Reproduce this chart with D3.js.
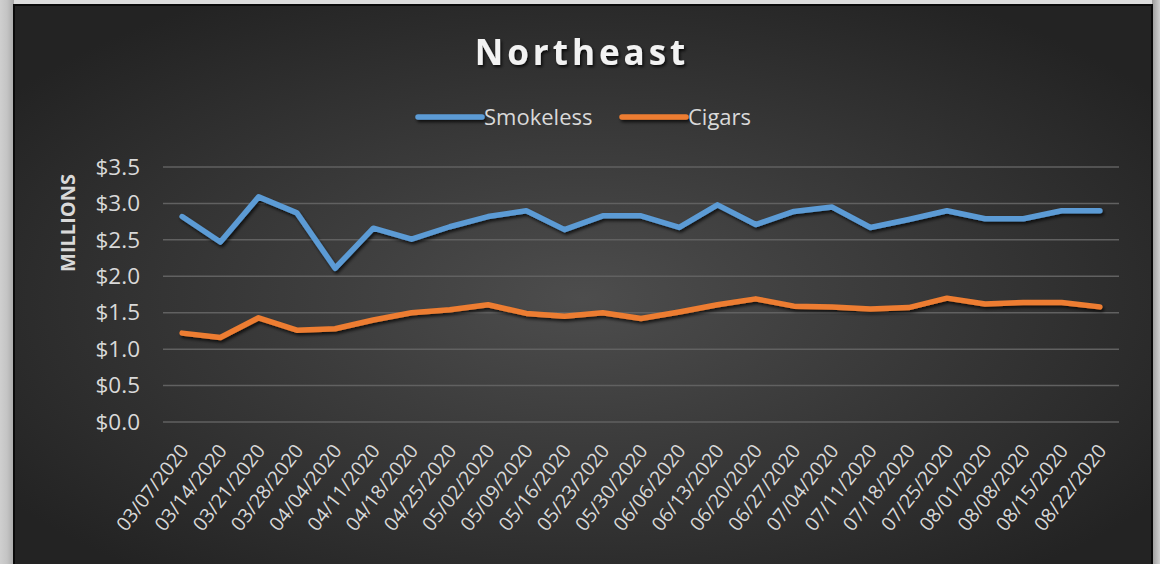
<!DOCTYPE html>
<html>
<head>
<meta charset="utf-8">
<script src="https://cdn.jsdelivr.net/npm/d3@7"></script>
<style>
  html, body { margin: 0; padding: 0; background: #d6d6d6; }
  svg { display: block; }
</style>
</head>
<body>
<div id="chart"></div>
<script>
// Weekly sales, Northeast region (millions of dollars)
const weeks = ["03/07/2020","03/14/2020","03/21/2020","03/28/2020","04/04/2020","04/11/2020",
  "04/18/2020","04/25/2020","05/02/2020","05/09/2020","05/16/2020","05/23/2020","05/30/2020",
  "06/06/2020","06/13/2020","06/20/2020","06/27/2020","07/04/2020","07/11/2020","07/18/2020",
  "07/25/2020","08/01/2020","08/08/2020","08/15/2020","08/22/2020"];
const smokeless = [2.82,2.47,3.09,2.87,2.11,2.66,2.51,2.68,2.82,2.90,2.64,2.83,2.83,
  2.67,2.98,2.71,2.89,2.95,2.67,2.78,2.90,2.79,2.79,2.90,2.90];
const cigars = [1.22,1.16,1.43,1.26,1.28,1.40,1.50,1.54,1.61,1.49,1.45,1.50,1.42,
  1.51,1.61,1.69,1.59,1.58,1.55,1.57,1.70,1.62,1.64,1.64,1.58];
const yTicks = [0,0.5,1.0,1.5,2.0,2.5,3.0,3.5];
const seriesNames = ["Smokeless","Cigars"];
const seriesColors = ["#5b9bd5","#ed7d31"];

const W = 1160, H = 564;
const svg = d3.select("#chart").append("svg").attr("width", W).attr("height", H);
const defs = svg.append("defs");

// page backdrop with a soft shade on both sides of the card
const side = defs.append("linearGradient").attr("id","side").attr("x1","0").attr("x2","1");
side.append("stop").attr("offset","0").attr("stop-color","#cfcfcf");
side.append("stop").attr("offset","0.5").attr("stop-color","#c4c4c4");
side.append("stop").attr("offset","1").attr("stop-color","#a8a8a8");
svg.append("rect").attr("width",W).attr("height",H).attr("fill","#dcdcdc");
svg.append("rect").attr("x",0).attr("y",0).attr("width",14).attr("height",H).attr("fill","url(#side)");
const side2 = defs.append("linearGradient").attr("id","side2").attr("x1","0").attr("x2","1");
side2.append("stop").attr("offset","0").attr("stop-color","#9a9a9a");
side2.append("stop").attr("offset","1").attr("stop-color","#d0d0d0");
svg.append("rect").attr("x",1152).attr("y",0).attr("width",8).attr("height",H).attr("fill","url(#side2)");

// chart card: dark radial gradient
const bg = defs.append("radialGradient").attr("id","bg")
  .attr("cx","0.5").attr("cy","0.52").attr("r","0.62");
bg.append("stop").attr("offset","0").attr("stop-color","#4d4d4d");
bg.append("stop").attr("offset","1").attr("stop-color","#232323");
svg.append("rect").attr("x",14).attr("y",5).attr("width",1138).attr("height",H)
  .attr("fill","url(#bg)").attr("stroke","#0a0a0a").attr("stroke-width",2);

// shadows (user-space regions so flat shapes keep their shadow)
const sh = defs.append("filter").attr("id","lineShadow").attr("filterUnits","userSpaceOnUse")
  .attr("x",0).attr("y",0).attr("width",W).attr("height",H);
sh.append("feDropShadow").attr("dx",1.5).attr("dy",2.5).attr("stdDeviation",1.6)
  .attr("flood-color","#000").attr("flood-opacity",0.7);
const tsh = defs.append("filter").attr("id","textShadow").attr("filterUnits","userSpaceOnUse")
  .attr("x",0).attr("y",0).attr("width",W).attr("height",H);
tsh.append("feDropShadow").attr("dx",1.5).attr("dy",2).attr("stdDeviation",1.5)
  .attr("flood-color","#000").attr("flood-opacity",0.8);

const x = d3.scalePoint().domain(weeks).range([163,1119]).padding(0.5);
const y = d3.scaleLinear().domain([0,3.5]).range([422,167]);

const font = "'Open Sans', sans-serif";
const textColor = "#d9d9d9";

// gridlines
svg.append("g").selectAll("line").data(yTicks).join("line")
  .attr("x1",163).attr("x2",1119)
  .attr("y1",d => y(d)).attr("y2",d => y(d))
  .attr("stroke","#616161").attr("stroke-width",1.5);

// y axis labels
const yAxis = svg.append("g").attr("transform","translate(140,0)")
  .call(d3.axisLeft(y).tickValues(yTicks).tickSize(0).tickPadding(0)
    .tickFormat(d => "$" + d3.format(".1f")(d)));
yAxis.select(".domain").remove();
yAxis.selectAll("text").attr("font-family",font).attr("font-size",22.5)
  .attr("fill",textColor);

// axis title
svg.append("text").attr("transform","translate(75,223) rotate(-90)")
  .attr("text-anchor","middle").attr("font-family",font).attr("font-weight",700)
  .attr("font-size",20).attr("fill",textColor).text("MILLIONS");

// x axis labels
const xAxis = svg.append("g").attr("transform","translate(0,422)")
  .call(d3.axisBottom(x).tickSize(0).tickPadding(0));
xAxis.select(".domain").remove();
xAxis.selectAll("text")
  .attr("font-family",font).attr("font-size",19.5).attr("fill",textColor)
  .attr("text-anchor","end").attr("dy",0).attr("y",0)
  .attr("transform","translate(7,29) rotate(-52)");

// series lines
const line = d3.line().x((d,i) => x(weeks[i])).y(d => y(d));
[smokeless, cigars].forEach((vals, k) => {
  svg.append("path").datum(vals).attr("d", line)
    .attr("fill","none").attr("stroke",seriesColors[k]).attr("stroke-width",5.5)
    .attr("stroke-linejoin","round").attr("stroke-linecap","round")
    .attr("filter","url(#lineShadow)");
});

// title
svg.append("text").attr("x",582).attr("y",65).attr("text-anchor","middle")
  .attr("font-family",font).attr("font-weight",700).attr("font-size",35)
  .attr("letter-spacing",4).attr("fill","#f2f2f2").attr("filter","url(#textShadow)")
  .text("Northeast");

// legend
const legendX = [418, 622];
const lg = svg.append("g");
seriesNames.forEach((name, k) => {
  lg.append("line").attr("x1",legendX[k]).attr("x2",legendX[k]+64)
    .attr("y1",117).attr("y2",117).attr("stroke",seriesColors[k])
    .attr("stroke-width",5.5).attr("stroke-linecap","round")
    .attr("filter","url(#lineShadow)");
  lg.append("text").attr("x",legendX[k]+66).attr("y",125)
    .attr("font-family",font).attr("font-size",22).attr("fill",textColor)
    .text(name);
});
</script>
</body>
</html>
